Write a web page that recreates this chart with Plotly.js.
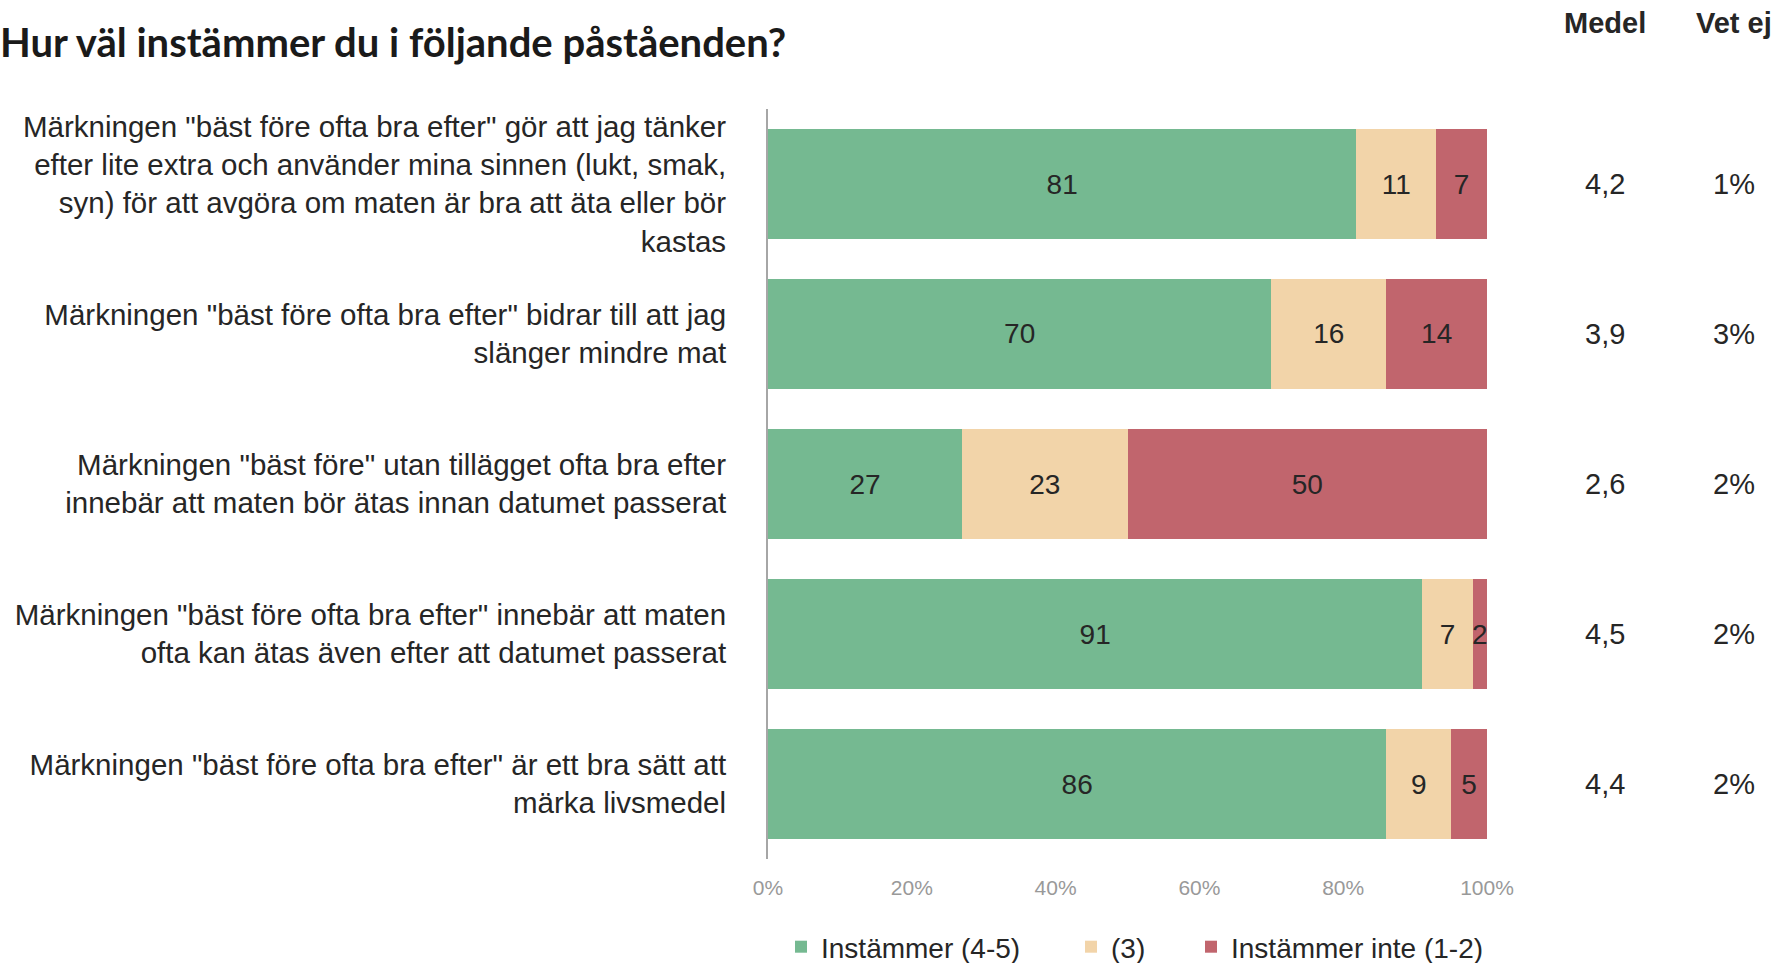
<!DOCTYPE html>
<html>
<head>
<meta charset="utf-8">
<script src="https://cdn.plot.ly/plotly-3.0.1.min.js"></script>
<style>html,body{margin:0;padding:0;background:#fff;}#chart{width:1782px;height:963px;}</style>
</head>
<body>
<div id="chart"></div>
<script>
const categories = [
  'Märkningen "bäst före ofta bra efter" gör att jag tänker<br>efter lite extra och använder mina sinnen (lukt, smak,<br>syn) för att avgöra om maten är bra att äta eller bör<br>kastas',
  'Märkningen "bäst före ofta bra efter" bidrar till att jag<br>slänger mindre mat',
  'Märkningen "bäst före" utan tillägget ofta bra efter<br>innebär att maten bör ätas innan datumet passerat',
  'Märkningen "bäst före ofta bra efter" innebär att maten<br>ofta kan ätas även efter att datumet passerat',
  'Märkningen "bäst före ofta bra efter" är ett bra sätt att<br>märka livsmedel'
];
const seriesNames = ['Instämmer (4-5)', '(3)', 'Instämmer inte (1-2)'];
const agree = [81, 70, 27, 91, 86];
const neutral = [11, 16, 23, 7, 9];
const disagree = [7, 14, 50, 2, 5];
const medel = ['4,2', '3,9', '2,6', '4,5', '4,4'];
const vetEj = ['1%', '3%', '2%', '2%', '2%'];
const colors = ['#75B991', '#F2D4A9', '#C1656D'];

const arial = '"Liberation Sans", Arial, sans-serif';
const legendIds = ['legend', 'legend2', 'legend3'];
const legendX = [781, 1071, 1191];

const seriesValues = [agree, neutral, disagree];
const traces = seriesValues.map((vals, i) => ({
  type: 'bar',
  orientation: 'h',
  name: seriesNames[i],
  legend: legendIds[i],
  y: categories,
  x: vals,
  text: vals.map(String),
  texttemplate: '%{text}',
  textposition: 'inside',
  insidetextanchor: 'middle',
  constraintext: 'none',
  textfont: {family: arial, size: 28, color: '#262626'},
  marker: {color: colors[i], line: {width: 0}},
  hoverinfo: 'skip'
}));

const annotations = [];
annotations.push({xref: 'paper', yref: 'paper', x: 1.164, y: 1.115, text: '<b>Medel</b>', showarrow: false,
  xanchor: 'center', yanchor: 'middle', font: {family: arial, size: 29, color: '#262626'}});
annotations.push({xref: 'paper', yref: 'paper', x: 1.343, y: 1.115, text: '<b>Vet ej</b>', showarrow: false,
  xanchor: 'center', yanchor: 'middle', font: {family: arial, size: 29, color: '#262626'}});
categories.forEach((c, i) => {
  annotations.push({xref: 'paper', yref: 'y', x: 1.164, y: c, text: medel[i], showarrow: false,
    xanchor: 'center', yanchor: 'middle', font: {family: arial, size: 29, color: '#262626'}});
  annotations.push({xref: 'paper', yref: 'y', x: 1.343, y: c, text: vetEj[i], showarrow: false,
    xanchor: 'center', yanchor: 'middle', font: {family: arial, size: 29, color: '#262626'}});
});

function legendSpec(px) {
  return {
    orientation: 'h',
    xref: 'container', x: px / 1782, xanchor: 'left',
    yref: 'container', y: 16 / 963, yanchor: 'middle',
    font: {family: arial, size: 28, color: '#262626'},
    bgcolor: 'rgba(0,0,0,0)',
    itemclick: false, itemdoubleclick: false
  };
}

const layout = {
  width: 1782,
  height: 963,
  paper_bgcolor: '#ffffff',
  plot_bgcolor: '#ffffff',
  margin: {l: 768, r: 295, t: 109, b: 104, pad: 0},
  barmode: 'stack',
  barnorm: 'percent',
  bargap: 0.267,
  title: {
    text: '<b>Hur väl instämmer du i följande påståenden?</b>',
    x: 0, xref: 'container', xanchor: 'left',
    y: 0.955, yref: 'container', yanchor: 'middle',
    font: {family: 'Lato, "Open Sans", sans-serif', size: 40, color: '#1a1a1a'}
  },
  xaxis: {
    range: [0, 100],
    dtick: 20,
    tick0: 0,
    ticksuffix: '%',
    showgrid: false,
    zeroline: false,
    showline: false,
    ticks: '',
    ticklabelstandoff: 14,
    tickfont: {family: arial, size: 21, color: '#999999'},
    fixedrange: true
  },
  yaxis: {
    autorange: 'reversed',
    showgrid: false,
    zeroline: false,
    showline: true,
    linecolor: '#a6a6a6',
    linewidth: 2,
    ticks: '',
    ticklabelstandoff: 34,
    tickfont: {family: arial, size: 29.5, color: '#262626'},
    fixedrange: true
  },
  showlegend: true,
  legend: legendSpec(legendX[0]),
  legend2: legendSpec(legendX[1]),
  legend3: legendSpec(legendX[2]),
  annotations: annotations
};

Plotly.newPlot('chart', traces, layout, {displayModeBar: false, staticPlot: true});
</script>
</body>
</html>
